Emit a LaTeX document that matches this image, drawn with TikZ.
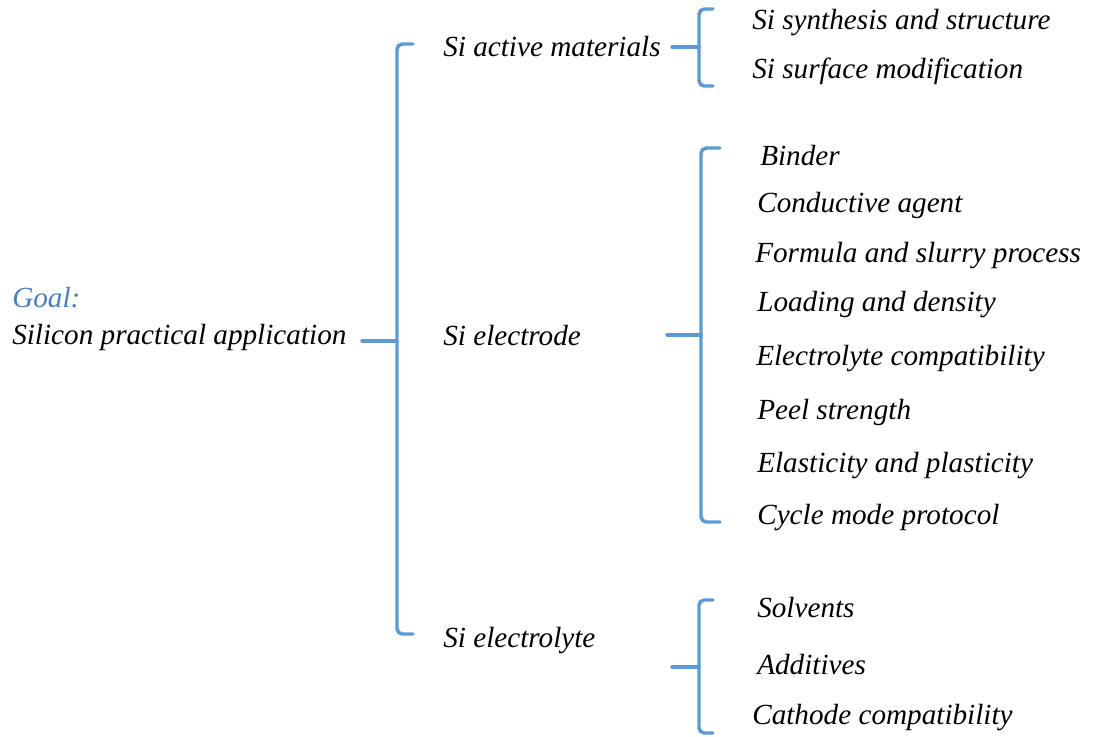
\documentclass[tikz,border=0pt]{standalone}
\usepackage{fontspec}
\setmainfont{Liberation Serif}
\definecolor{brk}{HTML}{5B9BD5}
\definecolor{goalc}{HTML}{4A7EBB}
\begin{document}
\begin{tikzpicture}[x=0.75pt,y=-0.75pt,
  lbl/.style={anchor=west,inner sep=0pt,font=\fontsize{21.9}{24}\selectfont\itshape},
  brace/.style={draw=brk,line width=2.6pt,rounded corners=4pt,line cap=round}]
\useasboundingbox (0,0) rectangle (1095,737);
% labels
\node[lbl,text=goalc] (goal) at (12,298) {Goal:};
\node[lbl] (silicon) at (12,337) {Silicon practical application};
\node[lbl] (am) at (443,47) {Si active materials};
\node[lbl] (el) at (443,336) {Si electrode};
\node[lbl] (ly) at (443,641) {Si electrolyte};
\node[lbl] (a1) at (752,23) {Si synthesis and structure};
\node[lbl] (a2) at (752,71) {Si surface modification};
\node[lbl] (e1) at (760,156) {Binder};
\node[lbl] (e2) at (757,205) {Conductive agent};
\node[lbl] (e3) at (755,256) {Formula and slurry process};
\node[lbl] (e4) at (757,305) {Loading and density};
\node[lbl] (e5) at (756,359) {Electrolyte compatibility};
\node[lbl] (e6) at (757,412) {Peel strength};
\node[lbl] (e7) at (757,466) {Elasticity and plasticity};
\node[lbl] (e8) at (757,518) {Cycle mode protocol};
\node[lbl] (l1) at (757,608) {Solvents};
\node[lbl] (l2) at (757,665) {Additives};
\node[lbl] (l3) at (752,718) {Cathode compatibility};
% coordinates for bracket ends
\coordinate (m0) at (362,341);
\coordinate (mj) at (397,341);
\coordinate (mt) at (413,44);
\coordinate (mb) at (413,634);
\coordinate (b1s) at (672,47);
\coordinate (b1j) at (699,47);
\coordinate (b1t) at (713,9);
\coordinate (b1b) at (713,86);
\coordinate (b2s) at (667,335);
\coordinate (b2j) at (701,335);
\coordinate (b2t) at (720,148);
\coordinate (b2b) at (720,522);
\coordinate (b3s) at (672,667);
\coordinate (b3j) at (699,667);
\coordinate (b3t) at (713,600);
\coordinate (b3b) at (713,733);
% brackets
\draw[brace] (mt) -- (mj |- mt) -- (mj |- mb) -- (mb);
\draw[brace] (m0) -- (mj);
\draw[brace] (b1t) -- (b1j |- b1t) -- (b1j |- b1b) -- (b1b);
\draw[brace] (b1s) -- (b1j);
\draw[brace] (b2t) -- (b2j |- b2t) -- (b2j |- b2b) -- (b2b);
\draw[brace] (b2s) -- (b2j);
\draw[brace] (b3t) -- (b3j |- b3t) -- (b3j |- b3b) -- (b3b);
\draw[brace] (b3s) -- (b3j);
\end{tikzpicture}
\end{document}
